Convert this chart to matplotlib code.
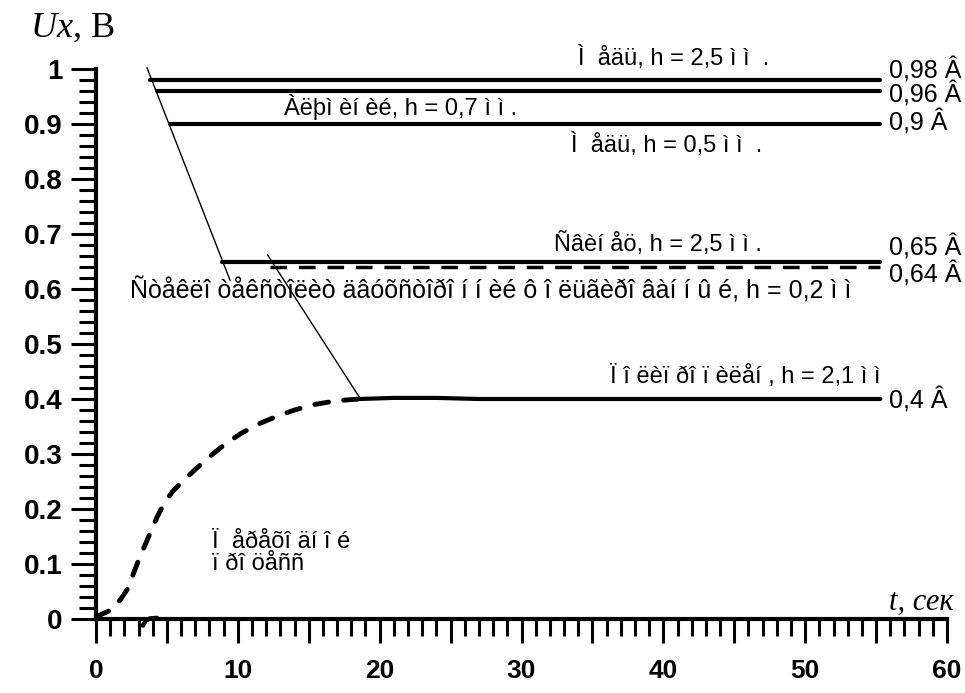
import matplotlib
matplotlib.use("Agg")
import matplotlib.pyplot as plt
from matplotlib.ticker import MultipleLocator

plt.rcParams['font.family'] = ['Liberation Sans', 'DejaVu Sans']
plt.rcParams['mathtext.fontset'] = 'custom'
plt.rcParams['mathtext.it'] = 'Liberation Serif:italic'
plt.rcParams['mathtext.rm'] = 'Liberation Serif'
plt.rcParams['lines.scale_dashes'] = False

# переходной процесс (пунктир)
curve_t = [0, 1.2, 1.8, 2.3, 2.6, 2.9, 3.3, 3.8, 4.3, 4.8, 5.4, 6.1, 7.0, 8.0,
           9.1, 10.2, 11.4, 12.7, 14.0, 15.4, 17.0, 18.6]
curve_u = [0.004, 0.018, 0.038, 0.058, 0.08, 0.1, 0.125, 0.155, 0.185, 0.21, 0.232,
           0.25, 0.272, 0.295, 0.318, 0.337, 0.354, 0.368, 0.38, 0.39, 0.397, 0.4]
# кусочек под осью
hook_t = [3.3, 3.5, 3.8, 4.3]
hook_u = [-0.012, -0.003, 0.001, 0.002]
# установившийся уровень 0.4
tail_t = [18.6, 21, 24, 27, 55.3]
tail_u = [0.4, 0.402, 0.402, 0.4, 0.4]

levels = [0.98, 0.96, 0.9, 0.65]
level_start = [3.8, 4.3, 5.2, 8.9]
level_end = 55.3
level_labels = ['0,98 Â', '0,96 Â', '0,9 Â', '0,65 Â']
label_y = [0.998, 0.953, 0.902, 0.675]

dash_level = 0.64
dash_start = 12.3
dash_label, dash_label_y = '0,64 Â', 0.627
tail_label, tail_label_y = '0,4 Â', 0.398

# выноски
lead1_t = [3.6, 9.45]
lead1_u = [1.002, 0.616]
lead2_t = [12.1, 18.6]
lead2_u = [0.662, 0.402]

notes = ["Ì  åäü, h = 2,5 ì ì  .",
         "Àëþì èí èé, h = 0,7 ì ì .",
         "Ì  åäü, h = 0,5 ì ì  .",
         "Ñâèí åö, h = 2,5 ì ì .",
         "Ñòåêëî òåêñòîëèò äâóõñòîðî í í èé ô î ëüãèðî âàí í û é, h = 0,2 ì ì",
         "Ï î ëèï ðî ï èëåí , h = 2,1 ì ì"]
notes_x = [40.7, 21.45, 40.2, 39.6, 27.8, 45.8]
notes_y = [1.02, 0.931, 0.862, 0.682, 0.598, 0.44]
notes_size = [17, 17, 17, 17, 18, 17]
proc_text = "Ï  åðåõî äí î é\nï ðî öåññ"

xticks = list(range(0, 61, 5))
xtick_labels = [str(v) if v % 10 == 0 else '' for v in xticks]
yticks = [i / 10 for i in range(11)]
ytick_labels = ['0', '0.1', '0.2', '0.3', '0.4', '0.5', '0.6', '0.7', '0.8', '0.9', '1']

fig = plt.figure(figsize=(9.65, 6.93), dpi=100)
ax = fig.add_axes([96 / 965, 1 - 619 / 693, 851 / 965, 550 / 693])

ax.plot(curve_t, curve_u, color='black', lw=3.5, dashes=(10, 11),
        dash_capstyle='round', solid_capstyle='round')
ax.plot(hook_t, hook_u, color='black', lw=3.2, solid_capstyle='round', clip_on=False)
ax.plot(tail_t, tail_u, color='black', lw=3, solid_capstyle='round')

for lv, st in zip(levels, level_start):
    ax.plot([st, level_end], [lv, lv], color='black', lw=3, solid_capstyle='round')
ax.plot([dash_start, level_end], [dash_level, dash_level], color='black', lw=2.5,
        dashes=(12, 8.5))

ax.plot(lead1_t, lead1_u, color='black', lw=1, clip_on=False)
ax.plot(lead2_t, lead2_u, color='black', lw=1)

for lab, yy in zip(level_labels + [dash_label, tail_label],
                   label_y + [dash_label_y, tail_label_y]):
    ax.text(55.9, yy, lab, fontsize=18, ha='left', va='center')

for s, xx, yy, fs in zip(notes, notes_x, notes_y, notes_size):
    ax.text(xx, yy, s, fontsize=fs, ha='center', va='center')
ax.text(8.2, 0.12, proc_text, fontsize=17, ha='left', va='center', linespacing=1.0)

ax.set_xlim(0, 60)
ax.set_ylim(0, 1)
for side in ['top', 'right']:
    ax.spines[side].set_visible(False)
for side in ['left', 'bottom']:
    ax.spines[side].set_linewidth(3)

ax.set_xticks(xticks)
ax.set_xticklabels(xtick_labels)
ax.xaxis.set_minor_locator(MultipleLocator(1))
ax.set_yticks(yticks)
ax.set_yticklabels(ytick_labels)
ax.yaxis.set_minor_locator(MultipleLocator(0.02))

ax.tick_params(axis='x', which='major', direction='out', length=17, width=2.2, pad=12)
ax.tick_params(axis='x', which='minor', direction='out', length=12, width=2.2)
ax.tick_params(axis='y', which='major', direction='out', length=18, width=2.2, pad=6)
ax.tick_params(axis='y', which='minor', direction='out', length=12, width=2.2)
for lab in ax.get_xticklabels():
    lab.set_fontsize(19)
    lab.set_fontweight('bold')
for lab in ax.get_yticklabels():
    lab.set_fontsize(20)
    lab.set_fontweight('bold')

fig.text(30 / 965, 1 - 37 / 693, r'$Ux$, В', fontsize=26, family='Liberation Serif',
         ha='left', va='baseline')
ax.text(55.9, 0.004, 't, сек', fontsize=22, family='Liberation Serif', style='italic',
        ha='left', va='bottom')

fig.savefig('out.png', dpi=100)
